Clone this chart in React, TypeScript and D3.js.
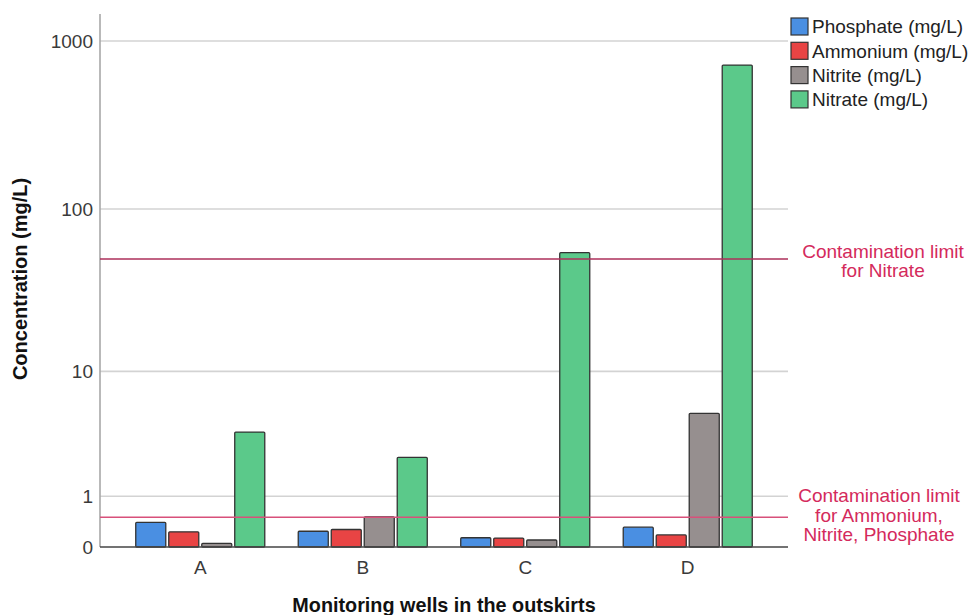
import React from "react";
import * as d3 from "d3";

// Monitoring wells and measured concentrations (mg/L)
const wells = ["A", "B", "C", "D"];
const seriesNames = ["Phosphate (mg/L)", "Ammonium (mg/L)", "Nitrite (mg/L)", "Nitrate (mg/L)"];
const seriesColors = ["#4a8fe2", "#e84444", "#968f8f", "#5bc98a"];
const phosphate = [0.4, 0.24, 0.135, 0.31];
const ammonium = [0.23, 0.27, 0.13, 0.18];
const nitrite = [0.05, 0.51, 0.1, 5.2];
const nitrate = [3.8, 2.4, 54.6, 720];
const yTicks = [0, 1, 10, 100, 1000];

// Regulatory thresholds drawn as horizontal reference lines
const nitrateLimit = 50;
const otherLimit = 0.5;

const W = 973;
const H = 615;
const left = 100;
const right = 788;
const top = 14;
const bottom = 547;
const FONT = "'Liberation Sans', Arial, Helvetica, sans-serif";

export default function App() {
  const values = [phosphate, ammonium, nitrite, nitrate];

  const y = d3.scaleSymlog().constant(1).domain([0, 1000]).range([bottom, 41]);
  const x = d3.scaleBand<string>().domain(wells).range([left, right]).paddingInner(0.206).paddingOuter(0.22);
  const xs = d3.scaleBand<string>().domain(seriesNames).range([0, x.bandwidth()]).paddingInner(0.09);

  const limitColorText = "#d42a5c";

  return (
    <svg
      width={W}
      height={H}
      style={{ position: "absolute", left: 0, top: 0, background: "#fff" }}
      fontFamily={FONT}
    >
      {/* grid lines */}
      {yTicks.filter((t) => t > 0).map((t) => (
        <line key={"g" + t} x1={left} x2={right} y1={y(t)} y2={y(t)} stroke="#d3d3d3" strokeWidth={1.6} />
      ))}

      {/* y axis line */}
      <line x1={left} x2={left} y1={top} y2={bottom} stroke="#a8a8a8" strokeWidth={1.6} />

      {/* y tick labels */}
      {yTicks.map((t) => (
        <text key={"t" + t} x={93} y={y(t)} dy="0.35em" textAnchor="end" fontSize={19} fill="#3a3a3a">
          {t}
        </text>
      ))}

      {/* bars */}
      {wells.map((w, i) => (
        <g key={w} transform={`translate(${x(w)},0)`}>
          {seriesNames.map((s, j) => {
            const v = values[j][i];
            return (
              <rect
                key={s}
                x={xs(s)}
                y={y(v)}
                width={xs.bandwidth()}
                height={bottom - y(v)}
                fill={seriesColors[j]}
                stroke="#333"
                strokeWidth={1.3}
                rx={1}
              />
            );
          })}
        </g>
      ))}

      {/* contamination limit lines */}
      <line x1={left} x2={right} y1={y(nitrateLimit)} y2={y(nitrateLimit)} stroke="#ad2f5a" strokeWidth={1.5} />
      <line x1={left} x2={right} y1={y(otherLimit)} y2={y(otherLimit)} stroke="#d8507a" strokeWidth={1.5} />

      {/* x axis baseline */}
      <line x1={left} x2={right} y1={bottom} y2={bottom} stroke="#444" strokeWidth={1.6} />

      {/* x tick labels */}
      {wells.map((w) => (
        <text key={"x" + w} x={(x(w) as number) + x.bandwidth() / 2} y={574} textAnchor="middle" fontSize={19} fill="#3a3a3a">
          {w}
        </text>
      ))}

      {/* axis titles */}
      <text x={(left + right) / 2} y={612} textAnchor="middle" fontSize={19.8} fontWeight="bold" fill="#111">
        Monitoring wells in the outskirts
      </text>
      <text
        transform={`translate(27,${279}) rotate(-90)`}
        textAnchor="middle"
        fontSize={20}
        fontWeight="bold"
        fill="#111"
      >
        Concentration (mg/L)
      </text>

      {/* limit annotations */}
      <text x={883} y={257.5} textAnchor="middle" fontSize={19} fill={limitColorText}>
        <tspan x={883} dy={0}>Contamination limit</tspan>
        <tspan x={883} dy={19.5}>for Nitrate</tspan>
      </text>
      <text x={879} y={502} textAnchor="middle" fontSize={19} fill={limitColorText}>
        <tspan x={879} dy={0}>Contamination limit</tspan>
        <tspan x={879} dy={19.5}>for Ammonium,</tspan>
        <tspan x={879} dy={19.5}>Nitrite, Phosphate</tspan>
      </text>

      {/* legend */}
      {seriesNames.map((s, j) => (
        <g key={"l" + s} transform={`translate(791,${18 + j * 24.3})`}>
          <rect x={0} y={0} width={17} height={17} fill={seriesColors[j]} stroke="#333" strokeWidth={1.2} />
          <text x={21} y={8.5} dy="0.36em" fontSize={19} fill="#222">
            {s}
          </text>
        </g>
      ))}
    </svg>
  );
}
